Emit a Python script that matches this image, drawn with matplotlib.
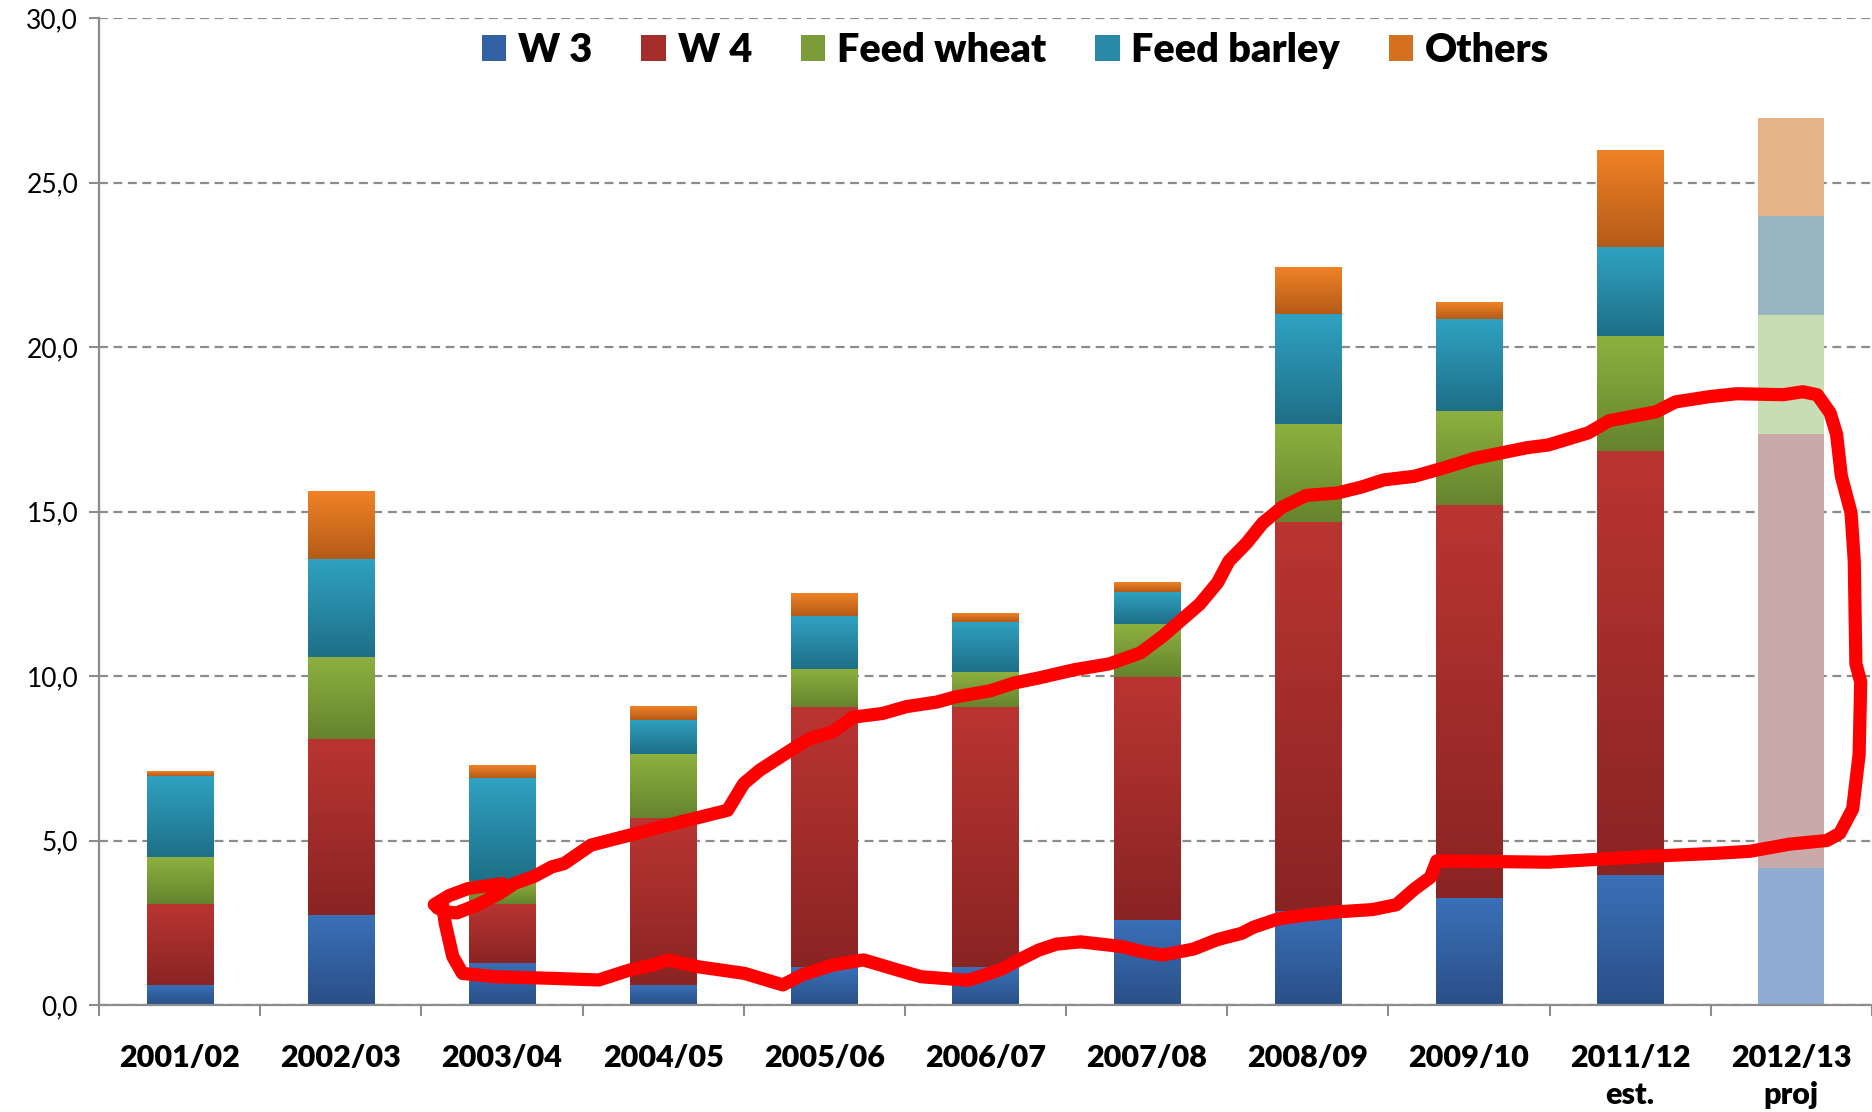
import numpy as np
import matplotlib
matplotlib.use("Agg")
import matplotlib.pyplot as plt
from matplotlib.colors import LinearSegmentedColormap
from matplotlib.patches import Patch

plt.rcParams['font.family'] = ['Lato', 'DejaVu Sans']

categories = ['2001/02', '2002/03', '2003/04', '2004/05', '2005/06', '2006/07',
              '2007/08', '2008/09', '2009/10', '2011/12\nest.', '2012/13\nproj']
series_names = ['W 3', 'W 4', 'Feed wheat', 'Feed barley', 'Others']
w3 = [0.62, 2.75, 1.28, 0.62, 1.15, 1.15, 2.58, 2.85, 3.25, 3.95, 4.15]
w4 = [2.45, 5.32, 1.80, 5.07, 7.90, 7.92, 7.40, 11.84, 11.95, 12.90, 13.20]
feed_wheat = [1.42, 2.50, 0.70, 1.93, 1.16, 1.05, 1.60, 2.97, 2.86, 3.48, 3.62]
feed_barley = [2.47, 3.00, 3.12, 1.05, 1.60, 1.52, 0.98, 3.34, 2.80, 2.70, 3.00]
others = [0.14, 2.04, 0.38, 0.42, 0.68, 0.26, 0.29, 1.42, 0.50, 2.94, 2.98]
yticks = [0, 5, 10, 15, 20, 25, 30]
ytick_labels = ['0,0', '5,0', '10,0', '15,0', '20,0', '25,0', '30,0']

# hand-drawn red loop (category units, values)
loop_x = [1.60, 1.66, 1.72, 1.85, 1.98, 2.08, 2.195, 2.31, 2.386, 2.552, 2.79, 3.03,
          3.195, 3.40, 3.50, 3.60, 3.79, 3.91, 4.05, 4.18, 4.36, 4.51, 4.70, 4.81,
          5.03, 5.18, 5.33, 5.55, 5.77, 5.96, 6.10, 6.21, 6.33, 6.44, 6.51, 6.62,
          6.72, 6.84, 6.99, 7.18, 7.33, 7.47, 7.66, 7.84, 8.03, 8.18, 8.36, 8.49,
          8.74, 8.87, 9.16, 9.28, 9.49, 9.66, 9.95, 10.07, 10.16, 10.24, 10.28, 10.31,
          10.37, 10.39, 10.40, 10.43, 10.42, 10.38, 10.30, 10.22, 9.99, 9.74, 9.53, 9.12,
          8.49, 7.80, 7.76, 7.66, 7.55, 7.40, 7.18, 6.96, 6.81, 6.66, 6.59, 6.44,
          6.29, 6.10, 5.99, 5.84, 5.59, 5.44, 5.33, 5.24, 5.10, 5.00, 4.89, 4.60,
          4.457, 4.243, 4.05, 3.86, 3.743, 3.505, 3.22, 3.03, 2.933, 2.79, 2.60, 2.314,
          1.957, 1.755, 1.695, 1.648, 1.63, 1.58, 1.67, 1.79, 2.005]
loop_y = [2.95, 2.82, 2.80, 3.05, 3.38, 3.70, 3.90, 4.20, 4.30, 4.86, 5.16, 5.47,
          5.67, 5.92, 6.73, 7.14, 7.74, 8.10, 8.30, 8.75, 8.86, 9.07, 9.21, 9.36,
          9.55, 9.79, 9.94, 10.19, 10.37, 10.70, 11.21, 11.68, 12.19, 12.84, 13.49, 14.04,
          14.65, 15.13, 15.49, 15.56, 15.74, 15.96, 16.07, 16.32, 16.61, 16.76, 16.94, 17.02,
          17.39, 17.76, 18.03, 18.33, 18.49, 18.58, 18.55, 18.64, 18.55, 18.00, 17.35, 16.07,
          14.96, 13.49, 10.37, 9.82, 7.61, 5.96, 5.22, 5.00, 4.89, 4.67, 4.61, 4.52,
          4.34, 4.38, 3.88, 3.52, 3.05, 2.90, 2.83, 2.72, 2.61, 2.36, 2.18, 1.99,
          1.70, 1.52, 1.60, 1.78, 1.92, 1.85, 1.67, 1.45, 1.09, 0.92, 0.75, 0.86,
          1.06, 1.37, 1.21, 0.91, 0.61, 0.96, 1.16, 1.37, 1.21, 1.06, 0.76, 0.81,
          0.86, 0.96, 1.47, 2.48, 3.10, 3.05, 3.32, 3.54, 3.69]

projected = 10  # index of the faded projection bar

grad_colors = [('#3A70B8', '#2A4F87'), ('#BA3532', '#892423'), ('#8DB13F', '#66832E'),
               ('#30A2C2', '#1E6F87'), ('#F08226', '#B55B18')]
faded_colors = ['#8EABD4', '#C9AAA9', '#C8DDB4', '#97B6BF', '#E5B48A']
legend_colors = ['#3261A3', '#A52D2B', '#7B9C38', '#2889A6', '#D4701F']

fig = plt.figure(figsize=(18.72, 11.12), dpi=100)
ax = fig.add_axes([99 / 1872, 1 - 1005 / 1112, (1872 - 99) / 1872, (1005 - 18) / 1112])

x = np.arange(len(categories))
width = 0.41
bottom = np.zeros(len(categories))
grad = np.linspace(0, 1, 256).reshape(-1, 1)
for vals, (top_c, bot_c), faded in zip([w3, w4, feed_wheat, feed_barley, others],
                                       grad_colors, faded_colors):
    bars = ax.bar(x, vals, width, bottom=bottom, color=top_c, linewidth=0, zorder=2)
    cmap = LinearSegmentedColormap.from_list('g', [bot_c, top_c])
    for i, b in enumerate(bars):
        if i == projected:
            b.set_facecolor(faded)
            continue
        x0, y0, w, h = b.get_x(), b.get_y(), b.get_width(), b.get_height()
        ax.imshow(grad, cmap=cmap, extent=[x0, x0 + w, y0, y0 + h], origin='lower',
                  aspect='auto', zorder=2.1, interpolation='bilinear')
    bottom += np.array(vals)

ax.plot(loop_x, loop_y, color='#FF0000', lw=9.5, solid_capstyle='round',
        solid_joinstyle='round', zorder=5)

ax.set_xlim(-0.5, len(categories) - 0.5)
ax.set_ylim(0, 30)
ax.set_yticks(yticks)
ax.set_yticklabels(ytick_labels, fontsize=19)
ax.set_xticks(x)
ax.set_xticklabels(categories, fontsize=22, fontweight='heavy', linespacing=1.4)
ax.set_xticks(np.arange(len(categories) + 1) - 0.5, minor=True)
ax.tick_params(axis='x', which='major', length=0, pad=28)
ax.tick_params(axis='x', which='minor', length=8, width=1.5, color='#8C8C8C', direction='out')
ax.tick_params(axis='y', length=7, width=1.5, color='#8C8C8C', pad=8)

ax.yaxis.grid(True, color='#8C8C8C', lw=1.6, ls=(0, (4, 2.5)))
ax.set_axisbelow(True)
for s in ['top', 'right']:
    ax.spines[s].set_visible(False)
for s in ['left', 'bottom']:
    ax.spines[s].set_color('#8C8C8C')
    ax.spines[s].set_linewidth(1.6)

handles = [Patch(facecolor=c, edgecolor='none') for c in legend_colors]
ax.legend(handles, series_names, loc='center', bbox_to_anchor=(0.517, 0.967), ncol=5,
          frameon=False, prop={'size': 28.5, 'weight': 'heavy'}, handlelength=0.62,
          handleheight=0.62, handletextpad=0.3, columnspacing=1.23)

fig.savefig('out.png', dpi=100)
